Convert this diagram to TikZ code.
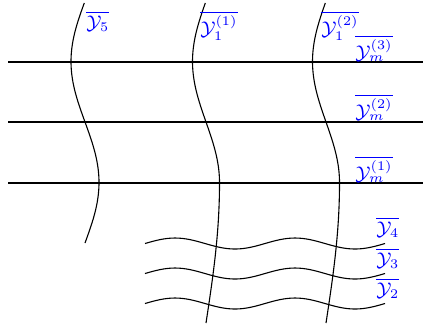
\documentclass[tikz,border=0pt]{standalone}
\usepackage{amsmath,amssymb}
\usepackage{xcolor}
\usetikzlibrary{positioning}

\begin{document}
\begin{tikzpicture}[
  x=0.4545pt, y=-0.4545pt,
  level/.style={line width=0.9pt},
  strand/.style={line width=0.5pt},
  wave/.style={line width=0.5pt},
  lbl/.style={text=blue,inner sep=0pt,anchor=north west,font=\small}
]
\useasboundingbox (0,0) rectangle (423,327);
% horizontal levels
\foreach \ly in {62,122,183}
  \draw[level] (8,\ly) -- (423,\ly);
% short strand on the left
\draw[strand] plot[domain=3:243,samples=80,variable=\t] ({85-14*sin(1.4876*(\t-1))},\t);
% two long strands
\foreach \cx in {206,326}{
  \draw[strand] plot[domain=3:183,samples=60,variable=\t] ({\cx-13.5*sin(1.4876*(\t-1))},\t)
    -- plot[domain=183:323,samples=40,variable=\t] ({\cx+13.5*cos(0.642857*(\t-183))},\t);
}
% wavy lines
\foreach \wy in {243.5,273.5,303.5}
  \draw[wave] (145,\wy) sin (175,\wy-5.5) cos (205,\wy) sin (235,\wy+5.5) cos (265,\wy)
    sin (295,\wy-5.5) cos (325,\wy) sin (355,\wy+5.5) cos (385,\wy);
% labels
\node[lbl] (y5) at (86,11) {$\overline{\mathcal{Y}_5}$};
\node[lbl] (y11) at (200,11) {$\overline{\mathcal{Y}_1^{(1)}}$};
\node[lbl] (y12) at (321,11) {$\overline{\mathcal{Y}_1^{(2)}}$};
\node[lbl] (ym3) at (355,35) {$\overline{\mathcal{Y}_m^{(3)}}$};
\node[lbl] (ym2) at (355,94) {$\overline{\mathcal{Y}_m^{(2)}}$};
\node[lbl] (ym1) at (355,156) {$\overline{\mathcal{Y}_m^{(1)}}$};
\node[lbl] (y4) at (376,217) {$\overline{\mathcal{Y}_4}$};
\node[lbl] (y3) at (376,248) {$\overline{\mathcal{Y}_3}$};
\node[lbl] (y2) at (376,278) {$\overline{\mathcal{Y}_2}$};
\end{tikzpicture}
\end{document}
